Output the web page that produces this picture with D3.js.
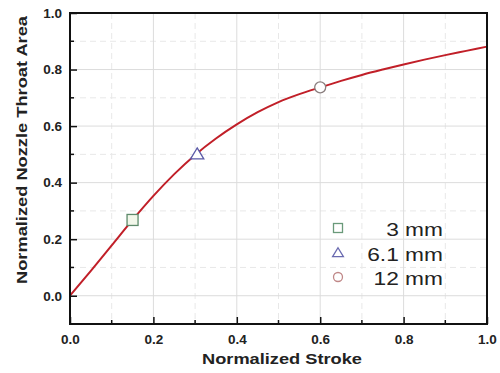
<!DOCTYPE html>
<html><head><meta charset="utf-8">
<script src="https://cdn.jsdelivr.net/npm/d3@7"></script>
<style>body{margin:0;background:#fff}svg{display:block}</style>
</head><body>
<svg id="c" width="500" height="373"></svg>
<script>
const strokeX = [0,0.05,0.1,0.15,0.2,0.25,0.3,0.35,0.4,0.45,0.5,0.55,0.6,0.65,0.7,0.75,0.8,0.85,0.9,0.95,1.0];
const areaY   = [0,0.088,0.178,0.268,0.353,0.430,0.498,0.556,0.606,0.649,0.685,0.713,0.737,0.760,0.781,0.800,0.818,0.835,0.851,0.866,0.881];
const markerLabels = ["3 mm","6.1 mm","12 mm"];
const markerX = [0.15,0.305,0.6];
const markerY = [0.268,0.500,0.737];
const markerShapes = ["square","triangle","circle"];
const xTicks = [0,0.2,0.4,0.6,0.8,1.0];
const yTicks = [0,0.2,0.4,0.6,0.8,1.0];

const FONT = "Liberation Sans, Arial, sans-serif";
const svg = d3.select("#c");
const m = {l:70,t:13,r:13,b:49};
const W = 500-m.l-m.r, H = 373-m.t-m.b;
const x = d3.scaleLinear().domain([0,1]).range([m.l,m.l+W]);
const y = d3.scaleLinear().domain([-0.1,1.0]).range([m.t+H,m.t]);

const g = svg.append("g");
const xMinor = d3.range(0.1,1,0.2), yMinor = [0.1,0.3,0.5,0.7,0.9];
g.selectAll(".mgx").data(xMinor).join("line").attr("x1",d=>x(d)).attr("x2",d=>x(d)).attr("y1",m.t).attr("y2",m.t+H)
 .attr("stroke","#e8e8e8").attr("stroke-dasharray","6,4").attr("stroke-width",1);
g.selectAll(".mgy").data(yMinor).join("line").attr("y1",d=>y(d)).attr("y2",d=>y(d)).attr("x1",m.l).attr("x2",m.l+W)
 .attr("stroke","#e8e8e8").attr("stroke-dasharray","6,4").attr("stroke-width",1);
g.selectAll(".gx").data(xTicks.slice(1,-1)).join("line").attr("x1",d=>x(d)).attr("x2",d=>x(d)).attr("y1",m.t).attr("y2",m.t+H)
 .attr("stroke","#dcdcdc").attr("stroke-width",1);
g.selectAll(".gy").data(yTicks.slice(0,-1)).join("line").attr("y1",d=>y(d)).attr("y2",d=>y(d)).attr("x1",m.l).attr("x2",m.l+W)
 .attr("stroke","#dcdcdc").attr("stroke-width",1);

const pts = strokeX.map((v,i)=>[v,areaY[i]]);
svg.append("path").datum(pts).attr("fill","none").attr("stroke","#c11f28").attr("stroke-width",2)
 .attr("d",d3.line().x(d=>x(d[0])).y(d=>y(d[1])).curve(d3.curveMonotoneX));

const xAxis = d3.axisBottom(x).tickValues(xTicks).tickSizeInner(-7).tickSizeOuter(0).tickPadding(10).tickFormat(d3.format(".1f"));
const yAxis = d3.axisLeft(y).tickValues(yTicks).tickSizeInner(-7).tickSizeOuter(0).tickPadding(8).tickFormat(d3.format(".1f"));
const gx = svg.append("g").attr("transform",`translate(0,${m.t+H})`).call(xAxis);
const gy = svg.append("g").attr("transform",`translate(${m.l},0)`).call(yAxis);
[gx,gy].forEach(a=>{a.select(".domain").remove();a.selectAll("line").attr("stroke","#111").attr("stroke-width",1.5);
 a.selectAll("text").attr("font-family",FONT).attr("font-weight","bold").attr("font-size",13.5).attr("fill","#222");});
svg.selectAll(".mtx").data(xMinor).join("line").attr("x1",d=>x(d)).attr("x2",d=>x(d)).attr("y1",m.t+H).attr("y2",m.t+H-4).attr("stroke","#111").attr("stroke-width",1.5);
svg.selectAll(".mty").data(yMinor).join("line").attr("y1",d=>y(d)).attr("y2",d=>y(d)).attr("x1",m.l).attr("x2",m.l+4).attr("stroke","#111").attr("stroke-width",1.5);
svg.append("rect").attr("x",m.l).attr("y",m.t).attr("width",W).attr("height",H).attr("fill","none").attr("stroke","#111").attr("stroke-width",2);

const colors = ["#5d8a6b","#5a5aa8","#8a7e7e"];
const fills = ["#f2f7ea","#ffffff","#ffffff"];
function drawShape(sel,shape,cx,cy,s,stroke,fill){
  if(shape==="square") sel.append("rect").attr("x",cx-s/2).attr("y",cy-s/2).attr("width",s).attr("height",s).attr("fill",fill).attr("stroke",stroke).attr("stroke-width",1.3);
  else if(shape==="triangle"){const h=s*0.9;sel.append("path").attr("d",`M${cx},${cy-h*0.65}L${cx+s*0.6},${cy+h*0.45}L${cx-s*0.6},${cy+h*0.45}Z`).attr("fill",fill).attr("stroke",stroke).attr("stroke-width",1.3);}
  else sel.append("circle").attr("cx",cx).attr("cy",cy).attr("r",s/2).attr("fill",fill).attr("stroke",stroke).attr("stroke-width",1.3);
}
markerShapes.forEach((s,i)=>drawShape(svg,s,x(markerX[i]),y(markerY[i]),11,colors[i],fills[i]));

const legColors = ["#6a9a7a","#6a6ab0","#c08888"];
const legRows = [228,253,277];
markerShapes.forEach((s,i)=>{
  drawShape(svg,s,338,legRows[i],9,legColors[i],"#fff");
  svg.append("text").attr("transform",`translate(443,${legRows[i]+8}) scale(1.3,1)`).attr("text-anchor","end")
   .attr("font-family",FONT).attr("font-size",17.5).attr("fill","#222").text(markerLabels[i]);
});

svg.append("text").attr("x",282).attr("y",364).attr("text-anchor","middle").attr("font-family",FONT)
 .attr("font-weight","bold").attr("font-size",15.5).attr("fill","#222")
 .attr("textLength",160).attr("lengthAdjust","spacingAndGlyphs").text("Normalized Stroke");
svg.append("text").attr("transform",`translate(27,150) rotate(-90)`).attr("text-anchor","middle").attr("font-family",FONT)
 .attr("font-weight","bold").attr("font-size",15.5).attr("fill","#222")
 .attr("textLength",268).attr("lengthAdjust","spacingAndGlyphs").text("Normalized Nozzle Throat Area");
</script>
</body></html>
